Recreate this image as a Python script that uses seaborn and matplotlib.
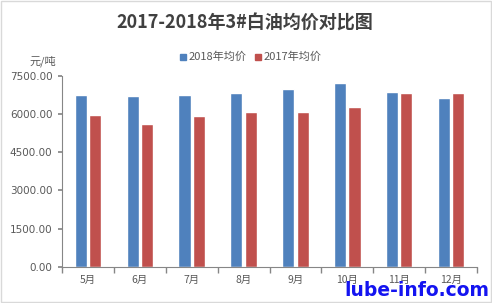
import matplotlib
matplotlib.use("Agg")
import matplotlib.pyplot as plt
import seaborn as sns
import pandas as pd
from matplotlib.patches import Rectangle
from matplotlib.ticker import FixedLocator, FuncFormatter

months = ["5月", "6月", "7月", "8月", "9月", "10月", "11月", "12月"]
price_2018 = [6750, 6700, 6740, 6820, 6980, 7240, 6860, 6620]
price_2017 = [5950, 5600, 5910, 6080, 6080, 6300, 6820, 6820]
series_names = ["2018年均价", "2017年均价"]
colors = ["#4F81BD", "#C0504D"]
yticks = [0, 1500, 3000, 4500, 6000, 7500]

sns.set_theme(style="white")
plt.rcParams["font.family"] = ["DejaVu Sans", "Noto Sans CJK SC"]

df = pd.DataFrame({
    "month": months * 2,
    "price": price_2018 + price_2017,
    "series": [series_names[0]] * len(months) + [series_names[1]] * len(months),
})

fig = plt.figure(figsize=(4.92, 3.03), dpi=100)
ax = fig.add_axes([62 / 492, 36.3 / 303, (477 - 62) / 492, (266.7 - 76) / 303])

sns.barplot(data=df, x="month", y="price", hue="series", order=months,
            hue_order=series_names, palette=colors, width=0.55, gap=0.15,
            saturation=1, legend=False, ax=ax)

ax.set_xlim(-0.5, len(months) - 0.5)
ax.set_ylim(0, 7500)
ax.set_yticks(yticks)
ax.yaxis.set_major_formatter(FuncFormatter(lambda v, p: f"{v:.2f}"))
ax.set_xlabel("")
ax.set_ylabel("")
ax.xaxis.set_minor_locator(FixedLocator([i - 0.5 for i in range(len(months) + 1)]))
ax.tick_params(axis="x", which="major", length=0, pad=6, labelsize=7.5,
               labelcolor="#595959")
ax.tick_params(axis="x", which="minor", length=4, direction="out", color="#868686",
               bottom=True)
ax.tick_params(axis="y", which="major", length=3, direction="out", color="#868686",
               left=True, pad=4, labelsize=7.5, labelcolor="#595959")
for lab in ax.get_xticklabels():
    lab.set_fontfamily(["Noto Sans CJK SC", "DejaVu Sans"])
for s in ["top", "right"]:
    ax.spines[s].set_visible(False)
for s in ["left", "bottom"]:
    ax.spines[s].set_color("#868686")
    ax.spines[s].set_linewidth(0.8)

fig.text(245 / 492, 1 - 23 / 303, "2017-2018年3#白油均价对比图", ha="center", va="center",
         fontsize=13, fontweight="bold", color="#404040",
         family=["Noto Sans CJK SC", "DejaVu Sans"])

fig.text(29 / 492, 1 - 61 / 303, "元/吨", ha="left", va="center", fontsize=8,
         color="#595959", family=["Noto Sans CJK SC", "DejaVu Sans"])

# legend
lx = [180, 255]
for x0, name, c in zip(lx, series_names, colors):
    fig.patches.append(Rectangle((x0 / 492, 1 - 60 / 303), 6 / 492, 6 / 303,
                                 transform=fig.transFigure, color=c))
    fig.text((x0 + 9) / 492, 1 - 57 / 303, name, ha="left", va="center", fontsize=8,
             color="#595959", family=["Noto Sans CJK SC", "DejaVu Sans"])

# figure border
fig.patches.append(Rectangle((0.002, 0.003), 0.996, 0.994, transform=fig.transFigure,
                             fill=False, edgecolor="#D9D9D9", linewidth=1))

fig.text(489 / 492, 1 - 291 / 303, "lube-info.com", ha="right", va="center",
         fontsize=13.5, fontweight="bold", color="#1414F0")

fig.savefig("out.png", dpi=100)
